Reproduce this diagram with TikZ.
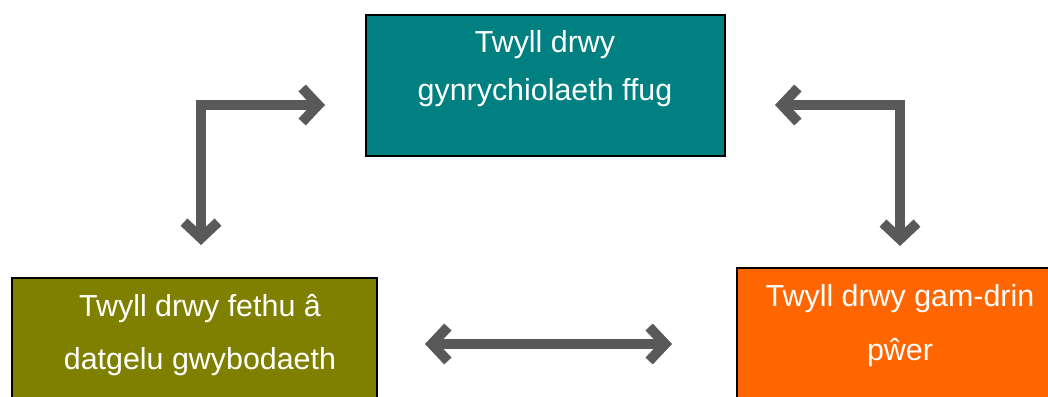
\documentclass[tikz,border=0pt]{standalone}
\usepackage{fontspec}
\setmainfont{Liberation Sans}
\usepackage{tikz}
\usetikzlibrary{arrows.meta, positioning, calc}
\definecolor{tealbox}{RGB}{0,128,128}
\definecolor{olivebox}{RGB}{128,128,0}
\definecolor{orangebox}{RGB}{255,102,0}
\definecolor{arrgray}{RGB}{89,89,89}
\tikzset{
  basebox/.style={rectangle,draw=black,line width=1pt,minimum height=70.5pt,inner sep=0pt},
  tealnode/.style={basebox,fill=tealbox,minimum width=179.5pt},
  olivenode/.style={basebox,fill=olivebox,minimum width=182.5pt},
  orangenode/.style={basebox,fill=orangebox,minimum width=164pt},
  boxtext/.style={anchor=base,align=center,text=white,inner sep=0pt,font=\fontsize{15.2}{#1}\selectfont},
  dblarr/.style={{Straight Barb[length=8pt,width=17pt]}-{Straight Barb[length=8pt,width=17pt]},line width=5pt,color=arrgray}
}
\begin{document}
\begin{tikzpicture}[x=0.5pt,y=0.5pt]
  \useasboundingbox (0,0) rectangle (1048,396);
  \clip (0,0) rectangle (1048,396);
  \fill[white] (0,0) rectangle (1048,396);

  %% Boxes
  \node[tealnode,anchor=north west] (T) at (365,382) {};
  \node[olivenode,anchor=north west] (L) at (11,119) {};
  \node[orangenode,anchor=north west] (R) at (736,129) {};

  %% Texts (base = last line)
  \node[boxtext=24pt] (Ttext) at (545,295) {Twyll drwy\\gynrychiolaeth ffug};
  \node[boxtext=26.5pt] (Ltext) at (200,26) {Twyll drwy fethu â\\datgelu gwybodaeth};
  \node[boxtext=27pt] (Rtext) at (900,36) {Twyll drwy gam-drin\\pŵer};

  %% Arrow ends
  \coordinate (aTL) at (325,291);
  \coordinate (aLT) at (201,151);
  \coordinate (aTR) at (775,291);
  \coordinate (aRT) at (900,150);
  \coordinate (aLR) at (425,52);
  \coordinate (aRL) at (672,52);

  %% Links
  \draw[dblarr] (aLT) |- (aTL);
  \draw[dblarr] (aTR) -| (aRT);
  \draw[dblarr] (aLR) -- (aRL);
\end{tikzpicture}
\end{document}
